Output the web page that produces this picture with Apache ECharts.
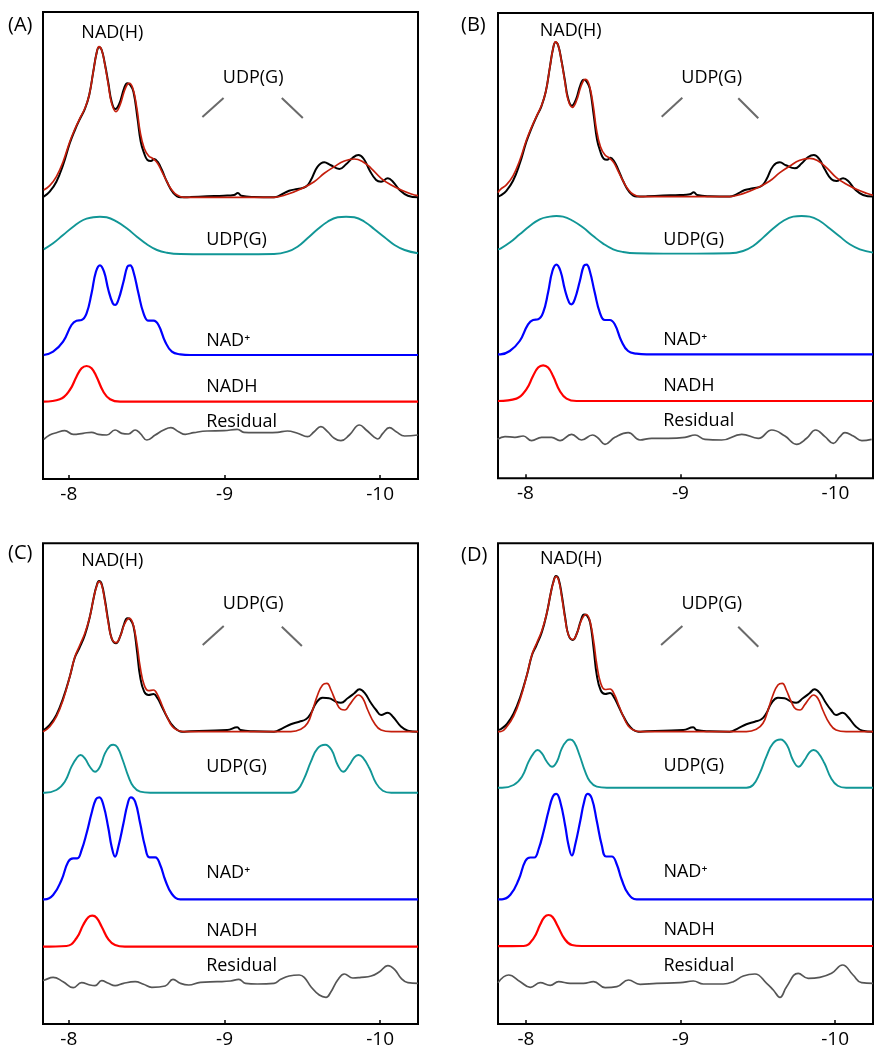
<!DOCTYPE html>
<html><head><meta charset="utf-8">
<script src="https://cdn.jsdelivr.net/npm/echarts@6/dist/echarts.min.js"></script>
<style>html,body{margin:0;padding:0;background:#fff}#c{width:881px;height:1050px}</style>
</head><body><div id="c"></div>
<script>
// x tick labels (ppm)
const tickLabels = [-8, -9, -10];
const panelNames = ['(A)', '(B)', '(C)', '(D)'];

// ---------- Panel A ----------
const A_exp = [[-7.839,282.3],[-7.877,287.3],[-7.920,297.3],[-7.963,314],[-8.006,335.7],[-8.039,349],[-8.071,360],[-8.103,370],[-8.131,384],[-8.157,407.3],[-8.178,425.7],[-8.194,431.7],[-8.211,429],[-8.232,414.7],[-8.254,395.7],[-8.275,377.3],[-8.299,370],[-8.325,375.7],[-8.355,390.7],[-8.376,395.7],[-8.394,394],[-8.415,387.3],[-8.441,360.7],[-8.462,337.3],[-8.484,325.7],[-8.505,319],[-8.527,318],[-8.548,320],[-8.570,317.3],[-8.598,309],[-8.630,297.3],[-8.673,285.7],[-8.716,281.7],[-8.781,282],[-8.888,282.7],[-8.996,283.3],[-9.060,284],[-9.086,286],[-9.108,283.3],[-9.189,282],[-9.318,281.7],[-9.361,284],[-9.415,288.3],[-9.469,290],[-9.523,292.3],[-9.555,299],[-9.598,312.3],[-9.641,316.7],[-9.680,314],[-9.738,310],[-9.781,314.7],[-9.824,321.3],[-9.860,324],[-9.895,320],[-9.931,309],[-9.974,299],[-10.006,297.3],[-10.049,300.7],[-10.082,297.3],[-10.125,289],[-10.178,283.3],[-10.243,281.7]];
const A_fit = [[-7.839,289],[-7.877,293.3],[-7.920,302.3],[-7.963,317.3],[-8.006,337.3],[-8.039,350],[-8.071,360.7],[-8.103,370.7],[-8.131,384],[-8.157,407.3],[-8.178,425.7],[-8.194,432.3],[-8.211,429],[-8.232,414],[-8.254,394],[-8.275,375.7],[-8.303,367.3],[-8.329,374],[-8.355,387.3],[-8.376,394.7],[-8.389,395.7],[-8.411,390.7],[-8.437,370.7],[-8.458,347.3],[-8.484,330.7],[-8.512,323.3],[-8.544,320],[-8.570,315.7],[-8.598,307.3],[-8.630,297.3],[-8.662,289],[-8.695,284],[-8.738,281.7],[-9.000,281.7],[-9.318,281.7],[-9.404,284.7],[-9.490,290],[-9.576,297.3],[-9.641,305.7],[-9.705,312.3],[-9.770,318],[-9.834,320],[-9.888,317.3],[-9.942,310.7],[-10.006,300.7],[-10.071,294],[-10.135,289],[-10.200,285],[-10.243,283.3]];
const A_udpg = [[-7.839,229.7],[-7.899,235.7],[-7.963,244],[-8.028,252.3],[-8.092,259],[-8.157,261.7],[-8.200,262.3],[-8.243,261.7],[-8.308,257.3],[-8.372,250.7],[-8.437,242.3],[-8.501,234.7],[-8.566,229],[-8.630,226.3],[-8.716,225],[-8.888,224.7],[-9.103,224.7],[-9.318,225],[-9.404,227.3],[-9.469,232.3],[-9.533,240.7],[-9.598,249.7],[-9.662,257.3],[-9.727,261.7],[-9.781,262.3],[-9.834,261.7],[-9.899,257.3],[-9.963,249.7],[-10.028,241.7],[-10.092,234],[-10.157,229],[-10.243,225.7]];
const A_nadp = [[-7.839,124],[-7.899,127.3],[-7.963,137.3],[-8.017,154],[-8.049,158.3],[-8.082,159],[-8.114,165.7],[-8.146,185.7],[-8.174,207.3],[-8.200,213.7],[-8.226,207.3],[-8.254,189],[-8.282,175.7],[-8.297,174],[-8.318,179],[-8.351,197.3],[-8.376,212.3],[-8.394,213.7],[-8.415,207.3],[-8.447,185.7],[-8.480,165.7],[-8.512,158.3],[-8.544,158.3],[-8.576,154],[-8.619,137.3],[-8.662,127.3],[-8.716,124.7],[-8.781,124],[-9.500,124],[-10.243,124]];
const A_nadh = [[-7.839,77.3],[-7.942,79.7],[-8.006,89],[-8.049,102.3],[-8.082,110.7],[-8.114,113],[-8.146,110.7],[-8.178,102.3],[-8.222,87.3],[-8.265,79.7],[-8.329,77.3],[-9.300,77.3],[-10.243,77.3]];
const A_resid = [[-7.839,39.7],[-7.877,44],[-7.920,46.3],[-7.974,48.3],[-8.028,44.7],[-8.092,45.7],[-8.146,46.7],[-8.189,44.7],[-8.243,44],[-8.297,49],[-8.340,45.7],[-8.383,45],[-8.426,49],[-8.458,45.7],[-8.501,39],[-8.555,44],[-8.609,49],[-8.656,51.3],[-8.705,47.3],[-8.748,44.7],[-8.802,46.3],[-8.888,48],[-8.996,48.3],[-9.082,49.7],[-9.125,46.7],[-9.189,46.3],[-9.275,46.3],[-9.340,46.7],[-9.404,48],[-9.469,45.7],[-9.533,42.3],[-9.576,47.3],[-9.619,52.3],[-9.662,47.3],[-9.705,40.7],[-9.748,38.3],[-9.802,44],[-9.867,54],[-9.910,49],[-9.963,41.7],[-9.985,40],[-10.017,45.7],[-10.060,51.3],[-10.103,47.3],[-10.157,43],[-10.243,44]];

// ---------- Panel B ----------
const B_exp = [[-7.823,281.7],[-7.839,282.8],[-7.877,287.5],[-7.920,297.5],[-7.963,314.5],[-8.006,336.5],[-8.039,350],[-8.071,361.5],[-8.103,372],[-8.131,386.5],[-8.157,410.5],[-8.178,429.5],[-8.194,436],[-8.211,433],[-8.232,418],[-8.254,398.5],[-8.275,380],[-8.299,372.5],[-8.325,378.5],[-8.355,393.5],[-8.376,398.5],[-8.394,397],[-8.415,390],[-8.441,362.5],[-8.462,338.5],[-8.484,326.5],[-8.505,319.5],[-8.527,318.5],[-8.548,320.5],[-8.570,317.5],[-8.598,309],[-8.630,297.3],[-8.673,285.7],[-8.716,281.7],[-8.781,282],[-8.888,282.7],[-8.996,283.3],[-9.060,284],[-9.086,286],[-9.108,283.3],[-9.189,282],[-9.318,281.7],[-9.361,284],[-9.415,288.3],[-9.469,290],[-9.523,292.3],[-9.555,299],[-9.598,312.3],[-9.641,316],[-9.680,313],[-9.738,310],[-9.781,314.7],[-9.824,321.3],[-9.860,323.3],[-9.895,319.5],[-9.931,309],[-9.974,299],[-10.006,297.3],[-10.049,300],[-10.082,297.3],[-10.125,289],[-10.178,283.3],[-10.242,281.7]];
const B_fit = [[-7.823,285.7],[-7.839,289],[-7.877,293.5],[-7.920,302.5],[-7.963,317.8],[-8.006,338],[-8.039,351],[-8.071,362],[-8.103,372.5],[-8.131,386.5],[-8.157,410.5],[-8.178,429.5],[-8.194,436.5],[-8.211,433],[-8.232,417.5],[-8.254,397],[-8.275,378.5],[-8.303,371],[-8.329,377.5],[-8.355,390.5],[-8.376,398],[-8.389,399],[-8.411,393.5],[-8.437,373],[-8.458,349],[-8.484,331.5],[-8.512,323.5],[-8.544,320],[-8.570,315.7],[-8.598,307.3],[-8.630,297.3],[-8.662,289],[-8.695,284],[-8.738,281.7],[-9.000,281.7],[-9.318,281.7],[-9.404,284.7],[-9.490,290],[-9.576,297.3],[-9.641,305.7],[-9.705,312.3],[-9.770,318],[-9.834,320],[-9.888,317.3],[-9.942,310.7],[-10.006,300.7],[-10.071,294],[-10.135,289],[-10.200,285],[-10.242,283]];
const B_udpg = [[-7.823,229],[-7.839,229.7],[-7.899,235.7],[-7.963,244],[-8.028,252.3],[-8.092,259],[-8.157,261.7],[-8.200,262.3],[-8.243,261.7],[-8.308,257.3],[-8.372,250.7],[-8.437,242.3],[-8.501,234.7],[-8.566,229],[-8.630,226.3],[-8.716,225],[-8.888,224.7],[-9.103,224.7],[-9.318,225],[-9.404,227.3],[-9.469,232.3],[-9.533,240.7],[-9.598,249.7],[-9.662,257.3],[-9.727,261.7],[-9.781,262.3],[-9.834,261.7],[-9.899,257.3],[-9.963,249.7],[-10.028,241.7],[-10.092,234],[-10.157,229],[-10.242,225.7]];
const B_nadp = [[-7.823,124],[-7.839,124],[-7.899,127.3],[-7.963,137.3],[-8.017,154],[-8.049,158.3],[-8.082,159],[-8.114,165.7],[-8.146,185.7],[-8.174,207.3],[-8.200,213.7],[-8.226,207.3],[-8.254,189],[-8.282,175.7],[-8.297,174],[-8.318,179],[-8.351,197.3],[-8.376,212.3],[-8.394,213.7],[-8.415,207.3],[-8.447,185.7],[-8.480,165.7],[-8.512,158.3],[-8.544,158.3],[-8.576,154],[-8.619,137.3],[-8.662,127.3],[-8.716,124.7],[-8.781,124],[-9.500,124],[-10.242,124]];
const B_nadh = [[-7.823,77.3],[-7.942,79.7],[-8.006,89],[-8.049,102.3],[-8.082,110.7],[-8.114,113],[-8.146,110.7],[-8.178,102.3],[-8.222,87.3],[-8.265,79.7],[-8.329,77.3],[-9.300,77.3],[-10.242,77.3]];
const B_resid = [[-7.820,39],[-7.868,41.7],[-7.932,41],[-7.986,42.3],[-8.040,37.7],[-8.104,41],[-8.169,41],[-8.223,37.7],[-8.298,44],[-8.362,38.3],[-8.433,43.3],[-8.470,40],[-8.513,34],[-8.577,41],[-8.663,45.7],[-8.739,38.3],[-8.814,40],[-8.921,40],[-9.029,41],[-9.094,43.3],[-9.158,39],[-9.266,38.3],[-9.395,44],[-9.502,40],[-9.589,48.3],[-9.674,42.3],[-9.749,34],[-9.814,40],[-9.872,48.3],[-9.932,41.7],[-9.986,35],[-10.029,41.7],[-10.061,45.7],[-10.115,42.3],[-10.170,37.7],[-10.233,39]];

// ---------- Panel C ----------
const C_exp = [[-7.834,293.5],[-7.839,294],[-7.877,299],[-7.920,309],[-7.963,325.7],[-8.006,347.3],[-8.039,366.7],[-8.067,375.7],[-8.103,389],[-8.135,407.3],[-8.161,427.3],[-8.178,438],[-8.194,443],[-8.211,440],[-8.232,424],[-8.254,402.3],[-8.275,385.7],[-8.303,380.7],[-8.329,387.3],[-8.355,400],[-8.376,405.7],[-8.394,404.7],[-8.415,398],[-8.437,374],[-8.458,347.3],[-8.484,332.3],[-8.512,329],[-8.544,330],[-8.570,325.7],[-8.598,317.3],[-8.630,307.3],[-8.673,297.3],[-8.727,292.3],[-8.781,292.7],[-8.888,293.3],[-9.017,294],[-9.082,296.7],[-9.103,294],[-9.189,292.7],[-9.318,292.3],[-9.372,295.7],[-9.426,299.7],[-9.480,302.3],[-9.523,304.7],[-9.555,310.7],[-9.587,320.7],[-9.630,326.3],[-9.673,325.7],[-9.716,322.3],[-9.748,321.3],[-9.791,325.7],[-9.834,330.7],[-9.867,334.7],[-9.899,331.3],[-9.942,320.7],[-9.974,314],[-10.006,309],[-10.049,311.3],[-10.082,307.3],[-10.135,297.3],[-10.178,293.3],[-10.243,292.3]];
const C_fit = [[-7.834,292.3],[-7.877,297.3],[-7.920,307.3],[-7.963,324],[-8.006,347.3],[-8.039,367.3],[-8.071,379],[-8.103,390.7],[-8.135,407.3],[-8.161,427.3],[-8.178,437.3],[-8.194,442.3],[-8.211,439],[-8.232,422.3],[-8.254,400.7],[-8.275,385.7],[-8.303,381.3],[-8.329,387.3],[-8.355,399],[-8.376,404.7],[-8.389,405.7],[-8.411,400.7],[-8.437,380.7],[-8.458,357.3],[-8.484,339],[-8.512,333.3],[-8.544,334],[-8.570,329],[-8.598,319],[-8.630,307.3],[-8.662,298],[-8.695,294],[-8.738,292.3],[-9.000,292.3],[-9.426,292.3],[-9.490,294.7],[-9.533,300.7],[-9.566,314],[-9.598,329],[-9.630,339],[-9.658,340.7],[-9.684,334],[-9.716,322.3],[-9.748,314.7],[-9.774,314],[-9.802,319],[-9.834,325.7],[-9.860,329],[-9.888,325.7],[-9.920,314],[-9.963,300.7],[-10.006,294],[-10.071,292.3],[-10.243,292.3]];
const C_udpg = [[-7.834,231.3],[-7.845,231.3],[-7.920,234],[-7.974,242.3],[-8.017,257.3],[-8.049,265.7],[-8.075,269],[-8.103,265.7],[-8.135,257.3],[-8.168,252.3],[-8.200,257.3],[-8.232,270.7],[-8.265,278.3],[-8.286,279.3],[-8.312,276.7],[-8.346,264],[-8.383,247.3],[-8.415,237.3],[-8.458,232.3],[-8.523,231.3],[-9.000,231.3],[-9.426,231.3],[-9.469,234],[-9.512,245.7],[-9.555,262.3],[-9.598,275.7],[-9.647,279.3],[-9.688,274],[-9.727,259],[-9.763,252.3],[-9.802,259],[-9.834,266.7],[-9.860,269],[-9.888,266.7],[-9.931,255.7],[-9.974,240.7],[-10.017,233.3],[-10.071,231.3],[-10.243,231.3]];
const C_nadp = [[-7.834,124.7],[-7.845,124.7],[-7.899,129],[-7.953,144],[-7.996,162.3],[-8.028,165.7],[-8.054,165.7],[-8.082,174],[-8.114,190.7],[-8.146,210.7],[-8.174,224.7],[-8.196,226.7],[-8.222,219],[-8.254,195.7],[-8.275,177.3],[-8.297,167.3],[-8.318,177.3],[-8.351,200.7],[-8.376,219],[-8.398,226.7],[-8.426,222.3],[-8.458,200.7],[-8.490,177.3],[-8.518,166.7],[-8.555,166.7],[-8.587,159],[-8.619,144],[-8.662,130],[-8.716,124.7],[-8.781,124.7],[-9.500,124.7],[-10.243,124.7]];
const C_nadh = [[-7.834,77.3],[-7.985,78],[-8.049,85.7],[-8.092,99],[-8.125,106.7],[-8.151,108.3],[-8.178,106.3],[-8.211,97.3],[-8.254,84.7],[-8.297,79],[-8.360,77.3],[-9.300,77.3],[-10.243,77.3]];
const C_resid = [[-7.834,43.5],[-7.845,44],[-7.899,46.7],[-7.963,42.3],[-8.028,36.3],[-8.082,41.3],[-8.135,39],[-8.168,38.3],[-8.211,43.3],[-8.254,40.7],[-8.297,38.3],[-8.351,40.7],[-8.426,42.3],[-8.480,39.7],[-8.533,36.7],[-8.619,38],[-8.669,44.7],[-8.716,40.7],[-8.770,39],[-8.845,41.7],[-8.953,42.3],[-9.039,43],[-9.092,44.7],[-9.135,40.7],[-9.211,40],[-9.318,40.7],[-9.361,44.7],[-9.415,48],[-9.480,49],[-9.512,46.7],[-9.555,37.3],[-9.609,29],[-9.652,26.7],[-9.684,32.3],[-9.727,44],[-9.770,50],[-9.824,46],[-9.877,46.7],[-9.942,48],[-9.996,52.3],[-10.049,58.3],[-10.092,54.7],[-10.135,45.7],[-10.178,41.3],[-10.243,40.7]];

// ---------- Panel D ----------
const D_exp = [[-7.819,294],[-7.839,295],[-7.877,300],[-7.920,310.5],[-7.963,327],[-8.006,349],[-8.039,369],[-8.067,378.5],[-8.103,392],[-8.135,411],[-8.161,431.5],[-8.178,442.5],[-8.194,448],[-8.211,445],[-8.232,428.5],[-8.254,406],[-8.275,389],[-8.303,384],[-8.329,390.5],[-8.355,403.5],[-8.376,409.5],[-8.394,408.5],[-8.415,401.5],[-8.437,376.5],[-8.458,349],[-8.484,333.5],[-8.512,330],[-8.544,331],[-8.570,326.5],[-8.598,318],[-8.630,307.8],[-8.673,297.3],[-8.727,292.3],[-8.781,292.7],[-8.888,293.3],[-9.017,294],[-9.082,296.7],[-9.103,294],[-9.189,292.7],[-9.318,292.3],[-9.372,295.7],[-9.426,299.7],[-9.480,302.3],[-9.523,304.7],[-9.555,310.7],[-9.587,320.7],[-9.630,326.3],[-9.673,325.7],[-9.716,322.3],[-9.748,321.3],[-9.791,325.7],[-9.834,330.7],[-9.867,334.7],[-9.899,331.3],[-9.942,320.7],[-9.974,314],[-10.006,309],[-10.049,311.3],[-10.082,307.3],[-10.135,297.3],[-10.178,293.3],[-10.245,292.3]];
const D_fit = [[-7.819,292.3],[-7.839,292.5],[-7.877,297.5],[-7.920,307.8],[-7.963,325],[-8.006,349],[-8.039,369.5],[-8.071,381.5],[-8.103,393.5],[-8.135,411],[-8.161,431.5],[-8.178,442],[-8.194,447.5],[-8.211,444],[-8.232,426.5],[-8.254,404.5],[-8.275,389],[-8.303,384.5],[-8.329,390.5],[-8.355,402.5],[-8.376,408.5],[-8.389,409.5],[-8.411,404.5],[-8.437,383.5],[-8.458,359.5],[-8.484,340.5],[-8.512,334.5],[-8.544,335],[-8.570,330],[-8.598,319.5],[-8.630,307.5],[-8.662,298],[-8.695,294],[-8.738,292.3],[-9.000,292.3],[-9.426,292.3],[-9.490,294.7],[-9.533,300.7],[-9.566,314],[-9.598,329],[-9.630,339],[-9.658,340.7],[-9.684,334],[-9.716,322.3],[-9.748,314.7],[-9.774,314],[-9.802,319],[-9.834,325.7],[-9.860,329],[-9.888,325.7],[-9.920,314],[-9.963,300.7],[-10.006,294],[-10.071,292.3],[-10.245,292.3]];
const D_udpg = [[-7.819,236.3],[-7.845,236.3],[-7.920,239],[-7.974,247.3],[-8.017,262.3],[-8.049,270.7],[-8.075,274],[-8.103,270.7],[-8.135,262.3],[-8.168,257.3],[-8.200,262.3],[-8.232,275.7],[-8.265,283.3],[-8.286,284.5],[-8.312,281.7],[-8.346,269],[-8.383,252.3],[-8.415,242.3],[-8.458,237.3],[-8.523,236.3],[-9.000,236.3],[-9.426,236.3],[-9.469,239],[-9.512,250.7],[-9.555,267.3],[-9.598,280.7],[-9.647,284.5],[-9.688,279],[-9.727,264],[-9.763,257.3],[-9.802,264],[-9.834,271.7],[-9.860,274],[-9.888,271.7],[-9.931,260.7],[-9.974,245.7],[-10.017,238.3],[-10.071,236.3],[-10.245,236.3]];
const D_nadp = [[-7.819,124.7],[-7.845,124.7],[-7.899,129.2],[-7.953,144.5],[-7.996,163],[-8.028,166.5],[-8.054,166.5],[-8.082,175],[-8.114,192.5],[-8.146,213],[-8.174,227.5],[-8.196,230.2],[-8.222,222],[-8.254,198],[-8.275,179],[-8.297,168.5],[-8.318,179],[-8.351,203],[-8.376,222],[-8.398,230.2],[-8.426,225.5],[-8.458,203],[-8.490,179],[-8.518,167.5],[-8.555,167.5],[-8.587,159.8],[-8.619,144.5],[-8.662,130.2],[-8.716,124.7],[-8.781,124.7],[-9.500,124.7],[-10.245,124.7]];
const D_nadh = [[-7.819,77.8],[-7.985,78],[-8.049,85.7],[-8.092,99.5],[-8.120,107],[-8.146,109],[-8.172,107],[-8.205,98],[-8.250,85],[-8.297,79],[-8.360,78],[-9.300,78],[-10.245,78]];
const D_resid = [[-7.819,41.3],[-7.888,49],[-7.963,42.3],[-8.028,36.7],[-8.092,41.3],[-8.157,38.7],[-8.211,42.3],[-8.286,40.7],[-8.372,40.7],[-8.437,42.3],[-8.512,36.3],[-8.588,37.3],[-8.663,44],[-8.738,39.7],[-8.846,40.7],[-8.997,41.3],[-9.083,43],[-9.147,40],[-9.276,40],[-9.341,42.3],[-9.406,48],[-9.481,50],[-9.557,40.7],[-9.600,34],[-9.643,26.7],[-9.686,37.3],[-9.761,50.7],[-9.826,45.7],[-9.901,46.7],[-9.977,50.7],[-10.048,59],[-10.116,49],[-10.171,41.3],[-10.245,40.7]];

// ---------- layout (pixels) ----------
const layout = [
  {left: 43, top: 12, width: 375, height: 467, xmin: -10.243, xmax: -7.834, ymax: 467},
  {left: 498, top: 13, width: 375, height: 465.3, xmin: -10.242, xmax: -7.823, ymax: 465.3},
  {left: 43, top: 543.3, width: 375, height: 480.7, xmin: -10.243, xmax: -7.834, ymax: 480.7},
  {left: 498, top: 543.3, width: 375, height: 480.7, xmin: -10.245, xmax: -7.819, ymax: 480.7}
];
const panelSeries = [
  [A_exp, A_fit, A_udpg, A_nadp, A_nadh, A_resid],
  [B_exp, B_fit, B_udpg, B_nadp, B_nadh, B_resid],
  [C_exp, C_fit, C_udpg, C_nadp, C_nadh, C_resid],
  [D_exp, D_fit, D_udpg, D_nadp, D_nadh, D_resid]
];
const seriesStyle = [
  {color: '#000000', width: 2, z: 3},
  {color: '#c41e0c', width: 1.7, z: 4},
  {color: '#119696', width: 1.9, z: 3},
  {color: '#0000ff', width: 2.2, z: 3},
  {color: '#ff0000', width: 2.2, z: 3},
  {color: '#555555', width: 1.7, z: 3}
];
// annotation anchor points in data coordinates
const labelAnchors = [
  {nadh: [-8.279, 446.5], udpTop: [-9.184, 401.5], left: -8.882, udp: 239.3, nadp: 138, nadhL: 92, res: 57.3,
   diag: [[[-8.858,362],[-8.994,381]], [[-9.368,381],[-9.503,361]]]},
  {nadh: [-8.292, 447.1], udpTop: [-9.201, 400.8], left: -8.889, udp: 238.3, nadp: 138, nadhL: 92, res: 57.5,
   diag: [[[-8.879,361.6],[-9.012,380.6]], [[-9.373,380],[-9.502,360]]]},
  {nadh: [-8.279, 463], udpTop: [-9.184, 419.8], left: -8.882, udp: 257, nadp: 151.5, nadhL: 93, res: 58,
   diag: [[[-8.860,379],[-8.995,398]], [[-9.368,397.3],[-9.497,378]]]},
  {nadh: [-8.291, 464.8], udpTop: [-9.202, 419.8], left: -8.889, udp: 257.7, nadp: 152.3, nadhL: 94, res: 58,
   diag: [[[-8.874,379],[-9.012,398]], [[-9.373,397.3],[-9.503,377.3]]]}
];
const panelLabelPos = [[8, 25], [461, 25], [8, 553.5], [461, 555]];

const FONT = '"Open Sans", "Noto Sans", sans-serif';
const grids = [], xAxes = [], yAxes = [], series = [];
layout.forEach((p, i) => {
  grids.push({left: p.left, top: p.top, width: p.width, height: p.height, show: true,
    borderColor: '#000', borderWidth: 2, backgroundColor: 'rgba(0,0,0,0)'});
  xAxes.push({type: 'value', gridIndex: i, min: p.xmin, max: p.xmax, inverse: true,
    axisLine: {show: false}, splitLine: {show: false},
    axisTick: {show: true, inside: true, length: 4, customValues: tickLabels, lineStyle: {color: '#000', width: 1.5}},
    axisLabel: {show: true, customValues: tickLabels, color: '#000', fontSize: 19, fontFamily: FONT, margin: 6,
      formatter: v => String(v)}});
  yAxes.push({type: 'value', gridIndex: i, min: 0, max: p.ymax, show: false});
  panelSeries[i].forEach((d, k) => {
    const s = seriesStyle[k];
    series.push({type: 'line', xAxisIndex: i, yAxisIndex: i, data: d, symbol: 'none', showSymbol: false,
      smooth: 0.45, silent: true, z: s.z, lineStyle: {color: s.color, width: s.width}, clip: true});
  });
  labelAnchors[i].diag.forEach(seg => {
    series.push({type: 'line', xAxisIndex: i, yAxisIndex: i, data: seg, symbol: 'none', silent: true,
      lineStyle: {color: '#6a6a6a', width: 2}, z: 2});
  });
});

const chart = echarts.init(document.getElementById('c'), null, {renderer: 'canvas'});
chart.setOption({animation: false, grid: grids, xAxis: xAxes, yAxis: yAxes, series: series});

const graphics = [];
function addText(text, x, y, align, size) {
  graphics.push({type: 'text', silent: true, z: 10,
    style: {text: text, x: x, y: y, fill: '#000', font: size + 'px ' + FONT, align: align, verticalAlign: 'middle'}});
}
layout.forEach((p, i) => {
  const a = labelAnchors[i];
  const px = (pt) => chart.convertToPixel({gridIndex: i}, pt);
  let q = px(a.nadh); addText('NAD(H)', q[0], q[1], 'center', 18);
  q = px(a.udpTop); addText('UDP(G)', q[0], q[1], 'center', 18);
  q = px([a.left, a.udp]); addText('UDP(G)', q[0], q[1], 'left', 18);
  q = px([a.left, a.nadp]); addText('NAD\u207A', q[0], q[1], 'left', 18);
  q = px([a.left, a.nadhL]); addText('NADH', q[0], q[1], 'left', 18);
  q = px([a.left, a.res]); addText('Residual', q[0], q[1], 'left', 18);
  addText(panelNames[i], panelLabelPos[i][0], panelLabelPos[i][1], 'left', 20);
});
chart.setOption({graphic: graphics});
</script>
</body></html>
